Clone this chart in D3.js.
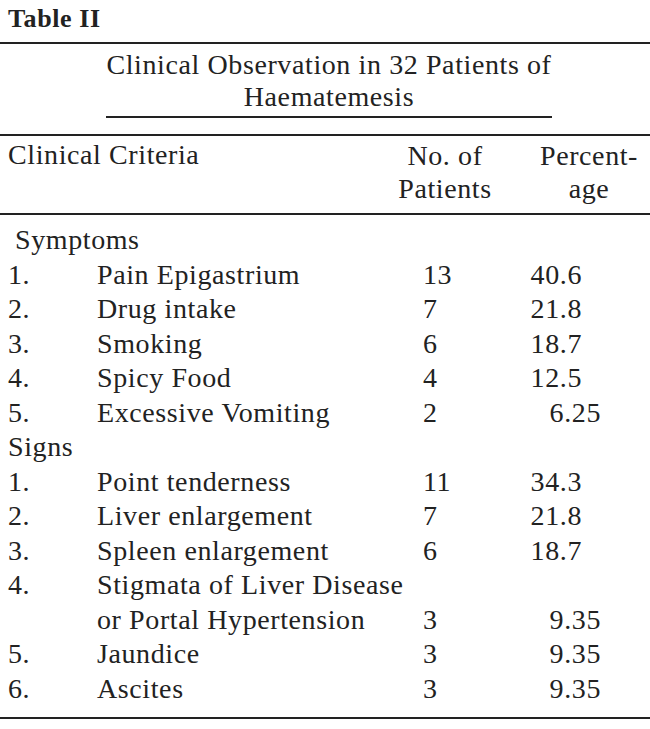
<!DOCTYPE html>
<html>
<head>
<meta charset="utf-8">
<script src="https://cdn.jsdelivr.net/npm/d3@7"></script>
<style>
  body { margin: 0; background: #fff; }
  .tbl { width: 650px; height: 729px; }
</style>
</head>
<body>
<div class="tbl"></div>
<script>
// table content
const tableNo = "Table II";
const titleLines = ["Clinical Observation in 32 Patients of", "Haematemesis"];
const headCriteria = "Clinical Criteria";
const headPatients = ["No. of", "Patients"];
const headPercent = ["Percent-", "age"];

const symptomLabels = ["Pain Epigastrium", "Drug intake", "Smoking", "Spicy Food", "Excessive Vomiting"];
const symptomCounts = [13, 7, 6, 4, 2];
const symptomPercents = ["40.6", "21.8", "18.7", "12.5", "6.25"];

const signLabels = ["Point tenderness", "Liver enlargement", "Spleen enlargement",
                    ["Stigmata of Liver Disease", "or Portal Hypertension"], "Jaundice", "Ascites"];
const signCounts = [11, 7, 6, 3, 3, 3];
const signPercents = ["34.3", "21.8", "18.7", "9.35", "9.35", "9.35"];

function draw() {
  const width = 650, height = 729;
  const ink = "#222";
  const font = "'Liberation Serif', 'DejaVu Serif', serif";

  const svg = d3.select(".tbl").append("svg")
    .attr("width", width).attr("height", height)
    .style("font-family", font)
    .style("letter-spacing", "0.6px")
    .attr("fill", ink);

  // flatten body into text lines
  let lines = [];
  function addSection(name, labels, counts, pcts) {
    lines.push({kind: "section", text: name});
    labels.forEach(function(lab, i) {
      let parts = Array.isArray(lab) ? lab : [lab];
      parts.forEach(function(p, j) {
        let last = j === parts.length - 1;
        lines.push({
          kind: "item",
          num: j === 0 ? (i + 1) + "." : "",
          text: p,
          count: last ? counts[i] : null,
          pct: last ? pcts[i] : null
        });
      });
    });
  }
  addSection("Symptoms", symptomLabels, symptomCounts, symptomPercents);
  addSection("Signs", signLabels, signCounts, signPercents);

  const y = d3.scalePoint().domain(d3.range(lines.length)).range([249, 698]);
  const col = {num: 8, label: 97, count: 423, pctEnd: 601, patients: 445, percent: 589};
  const fs = 28;

  // rules
  const rules = [
    {y: 43, x1: 0, x2: width, w: 2},
    {y: 117, x1: 106, x2: 552, w: 2},
    {y: 135, x1: 0, x2: width, w: 2},
    {y: 214, x1: 0, x2: width, w: 2},
    {y: 718, x1: 0, x2: width, w: 2}
  ];
  svg.selectAll("line.rule").data(rules).join("line")
    .attr("class", "rule")
    .attr("x1", d => d.x1).attr("x2", d => d.x2)
    .attr("y1", d => d.y).attr("y2", d => d.y)
    .attr("stroke", ink).attr("stroke-width", d => d.w);

  svg.append("text").attr("x", 8).attr("y", 27)
    .attr("font-size", 26).attr("font-weight", "bold").text(tableNo);

  svg.selectAll("text.title").data(titleLines).join("text")
    .attr("class", "title")
    .attr("x", 329).attr("y", (d, i) => 74 + i * 32)
    .attr("text-anchor", "middle").attr("font-size", fs).text(d => d);

  svg.append("text").attr("x", 8).attr("y", 164).attr("font-size", fs).text(headCriteria);
  svg.selectAll("text.hp").data(headPatients).join("text")
    .attr("class", "hp").attr("x", col.patients).attr("y", (d, i) => 165 + i * 33)
    .attr("text-anchor", "middle").attr("font-size", fs).text(d => d);
  svg.selectAll("text.hc").data(headPercent).join("text")
    .attr("class", "hc").attr("x", col.percent).attr("y", (d, i) => 165 + i * 33)
    .attr("text-anchor", "middle").attr("font-size", fs).text(d => d);

  const row = svg.selectAll("g.row").data(lines).join("g")
    .attr("class", "row")
    .attr("transform", (d, i) => `translate(0,${y(i)})`)
    .attr("font-size", fs);

  row.filter(d => d.kind === "section").append("text")
    .attr("x", d => d.text === "Symptoms" ? 15 : 8).text(d => d.text);

  const items = row.filter(d => d.kind === "item");
  items.append("text").attr("x", col.num).text(d => d.num);
  items.append("text").attr("x", col.label).text(d => d.text);
  items.filter(d => d.count !== null).append("text")
    .attr("x", col.count).text(d => d.count);
  items.filter(d => d.pct !== null).append("text")
    .attr("x", d => d.pct.split(".")[1].length > 1 ? col.pctEnd : col.pctEnd - 19)
    .attr("text-anchor", "end").text(d => d.pct);
}
draw();
</script>
</body>
</html>
